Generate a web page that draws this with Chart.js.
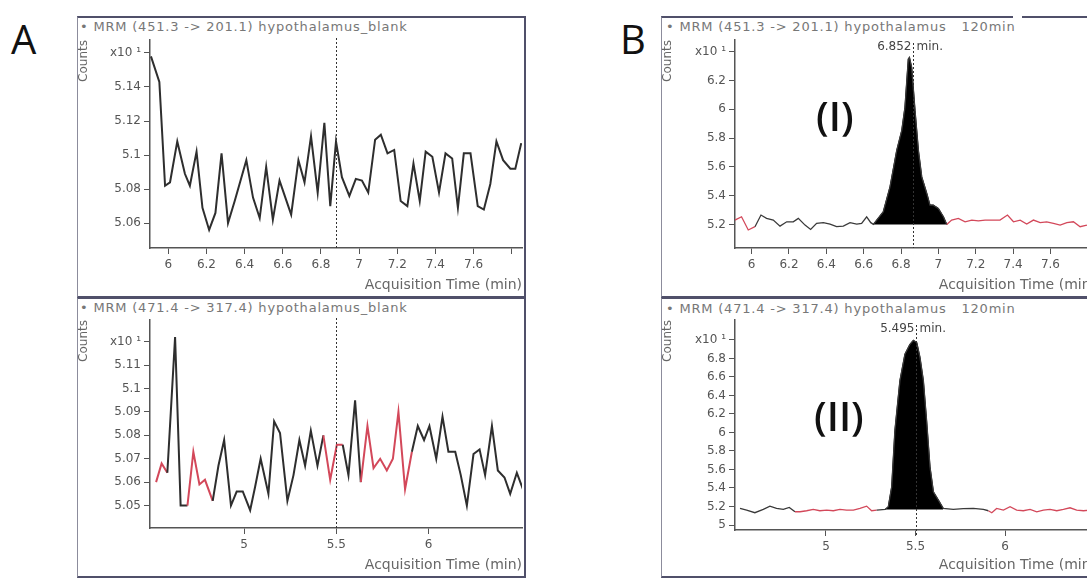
<!DOCTYPE html>
<html>
<head>
<meta charset="utf-8">
<script src="https://cdn.jsdelivr.net/npm/chart.js@4.4.0/dist/chart.umd.min.js"></script>
<style>
html, body { margin:0; padding:0; background:#fff; width:1087px; height:578px; overflow:hidden; position:relative; }
.box { position:absolute; box-sizing:border-box; border:2px solid #50506a; border-left:1px solid #8c8c9c; }
.hdr { position:absolute; font-family:"DejaVu Sans", sans-serif; font-size:13px; line-height:14px; color:#777; letter-spacing:0.8px; white-space:nowrap; }
.big { position:absolute; font-family:"Open Sans", sans-serif; color:#111; line-height:1; }
canvas { position:absolute; }
</style>
</head>
<body>

<div class="big" style="left:11px;top:19px;font-size:40px;font-weight:500;">A</div>
<div class="big" style="left:620px;top:19px;font-size:40px;font-weight:500;">B</div>

<div class="box" style="left:77px;top:16px;width:449px;height:282px;"></div>
<div class="box" style="left:77px;top:297px;width:449px;height:281px;"></div>
<div class="box" style="left:661px;top:16px;width:500px;height:282px;"></div>
<div class="box" style="left:661px;top:297px;width:500px;height:281px;"></div>
<div style="position:absolute;left:1013px;top:14px;width:9px;height:6px;background:#fff;"></div>

<div class="hdr" style="left:80px;top:20px;">&bull; MRM (451.3 -&gt; 201.1) hypothalamus_blank</div>
<div class="hdr" style="left:80px;top:301px;">&bull; MRM (471.4 -&gt; 317.4) hypothalamus_blank</div>
<div class="hdr" style="left:666px;top:20px;">&bull; MRM (451.3 -&gt; 201.1) hypothalamus&nbsp;&nbsp;&nbsp;120min</div>
<div class="hdr" style="left:666px;top:302px;">&bull; MRM (471.4 -&gt; 317.4) hypothalamus&nbsp;&nbsp;&nbsp;120min</div>

<canvas id="aTop" width="446" height="277" style="left:78px;top:19px;"></canvas>
<canvas id="aBot" width="446" height="277" style="left:78px;top:299px;"></canvas>
<canvas id="bTop" width="436" height="277" style="left:662px;top:19px;"></canvas>
<canvas id="bBot" width="436" height="277" style="left:662px;top:299px;"></canvas>

<div class="big" style="left:816px;top:96px;font-size:40px;font-weight:600;">(I)</div>
<div class="big" style="left:814px;top:396px;font-size:40px;font-weight:600;">(II)</div>

<script>
// A: MRM 451.3 -> 201.1, blank
const aTopTime = [5.909,5.953,5.983,6.009,6.047,6.087,6.113,6.148,6.179,6.214,6.247,6.279,6.313,6.348,6.409,6.444,6.479,6.513,6.548,6.583,6.644,6.682,6.714,6.748,6.783,6.818,6.849,6.879,6.910,6.949,6.983,7.015,7.048,7.084,7.114,7.149,7.184,7.218,7.253,7.285,7.318,7.349,7.384,7.419,7.453,7.488,7.518,7.549,7.584,7.622,7.654,7.688,7.720,7.755,7.793,7.819,7.850];
const aTopCounts = [5.158,5.143,5.082,5.084,5.108,5.089,5.082,5.102,5.069,5.056,5.066,5.101,5.060,5.073,5.097,5.075,5.063,5.093,5.062,5.085,5.065,5.097,5.084,5.111,5.078,5.119,5.070,5.108,5.087,5.076,5.086,5.085,5.078,5.109,5.112,5.101,5.103,5.073,5.070,5.095,5.073,5.102,5.099,5.078,5.101,5.098,5.069,5.101,5.101,5.070,5.068,5.083,5.108,5.097,5.092,5.092,5.107];
const aTopXTicks = [6,6.2,6.4,6.6,6.8,7,7.2,7.4,7.6,7.8];
const aTopXLabels = ['6','6.2','6.4','6.6','6.8','7','7.2','7.4','7.6',''];
const aTopYTicks = [5.06,5.08,5.1,5.12,5.14,5.16];
const aTopYLabels = ['5.06','5.08','5.1','5.12','5.14','x10 \u00b9'];

// A: MRM 471.4 -> 317.4, blank
const aBotTime = [4.523,4.553,4.584,4.626,4.656,4.693,4.725,4.758,4.788,4.830,4.861,4.892,4.929,4.960,4.993,5.033,5.060,5.090,5.132,5.163,5.195,5.235,5.268,5.300,5.331,5.362,5.398,5.430,5.467,5.503,5.535,5.566,5.602,5.633,5.669,5.702,5.738,5.774,5.807,5.837,5.873,5.910,5.942,5.976,6.005,6.042,6.076,6.108,6.145,6.175,6.208,6.244,6.277,6.307,6.344,6.376,6.412,6.443,6.479,6.512];
const aBotCounts = [5.060,5.068,5.064,5.122,5.050,5.050,5.073,5.059,5.061,5.052,5.067,5.078,5.050,5.056,5.056,5.048,5.058,5.070,5.055,5.086,5.081,5.052,5.063,5.078,5.067,5.082,5.067,5.080,5.061,5.076,5.076,5.063,5.095,5.060,5.084,5.066,5.070,5.065,5.070,5.090,5.057,5.073,5.084,5.078,5.084,5.070,5.088,5.073,5.073,5.063,5.050,5.072,5.074,5.063,5.084,5.065,5.062,5.055,5.064,5.057];
const aBotXTicks = [5,5.5,6];
const aBotXLabels = ['5','5.5','6'];
const aBotYTicks = [5.05,5.06,5.07,5.08,5.09,5.1,5.11,5.12];
const aBotYLabels = ['5.05','5.06','5.07','5.08','5.09','5.1','5.11','x10 \u00b9'];

// B: MRM 451.3 -> 201.1, 120 min
const bTopTime = [5.911,5.946,5.982,6.018,6.050,6.080,6.116,6.152,6.188,6.223,6.250,6.286,6.316,6.348,6.384,6.420,6.455,6.491,6.527,6.563,6.589,6.616,6.638,6.652,
  6.705,6.741,6.777,6.804,6.821,6.839,6.845,6.857,6.875,6.893,6.911,6.938,6.955,6.973,7.000,7.027,
  7.045,7.071,7.107,7.143,7.179,7.214,7.250,7.286,7.330,7.370,7.402,7.438,7.473,7.509,7.545,7.580,7.616,7.652,7.688,7.723,7.759,7.795,7.830];
const bTopCounts = [5.230,5.253,5.161,5.184,5.265,5.242,5.230,5.188,5.218,5.218,5.242,5.195,5.165,5.207,5.212,5.202,5.184,5.188,5.212,5.202,5.207,5.253,5.212,5.200,
  5.288,5.461,5.714,5.853,6.014,6.349,6.360,6.291,5.991,5.714,5.530,5.415,5.334,5.334,5.311,5.253,
  5.200,5.230,5.242,5.218,5.230,5.225,5.230,5.230,5.230,5.265,5.218,5.230,5.202,5.230,5.212,5.218,5.207,5.195,5.212,5.218,5.184,5.195,5.207];
const bTopXTicks = [6,6.2,6.4,6.6,6.8,7,7.2,7.4,7.6,7.8];
const bTopXLabels = ['6','6.2','6.4','6.6','6.8','7','7.2','7.4','7.6',''];
const bTopYTicks = [5.2,5.4,5.6,5.8,6,6.2,6.4];
const bTopYLabels = ['5.2','5.4','5.6','5.8','6','6.2','x10 \u00b9'];

// B: MRM 471.4 -> 317.4, 120 min
const bBotTime = [4.520,4.557,4.603,4.650,4.687,4.724,4.762,4.795,4.827,4.855,4.892,4.929,4.966,5.004,5.041,5.078,5.115,5.153,5.190,5.227,5.255,5.283,5.330,
  5.348,5.367,5.385,5.413,5.441,5.469,5.488,5.507,5.525,5.544,5.562,5.581,5.600,5.628,
  5.655,5.711,5.767,5.823,5.879,5.907,5.926,5.953,5.991,6.028,6.065,6.102,6.140,6.177,6.214,6.251,6.289,6.326,6.363,6.400,6.438,6.475,6.512];
const bBotCounts = [5.179,5.161,5.133,5.168,5.204,5.179,5.168,5.190,5.143,5.143,5.154,5.168,5.154,5.161,5.154,5.168,5.161,5.161,5.179,5.204,5.154,5.161,5.168,
  5.197,5.412,6.022,6.559,6.846,6.953,6.996,6.971,6.810,6.559,6.129,5.627,5.358,5.269,
  5.179,5.168,5.176,5.179,5.168,5.154,5.133,5.179,5.161,5.197,5.161,5.154,5.168,5.143,5.161,5.168,5.154,5.168,5.186,5.161,5.154,5.161,5.168];
const bBotXTicks = [5,5.5,6];
const bBotXLabels = ['5','5.5','6'];
const bBotYTicks = [5,5.2,5.4,5.6,5.8,6,6.2,6.4,6.6,6.8,7];
const bBotYLabels = ['5','5.2','5.4','5.6','5.8','6','6.2','6.4','6.6','6.8','x10 \u00b9'];

const GRAY = '#555';
const RED = '#d3485a';
const FONT = '"DejaVu Sans", sans-serif';

// dotted retention-time line with optional "x.xxx min." label
const markerPlugin = {
  id: 'marker',
  afterDatasetsDraw(chart, args, opts) {
    if (opts.at == null) return;
    const ctx = chart.ctx, a = chart.chartArea;
    const x = Math.round(chart.scales.x.getPixelForValue(opts.at)) + 0.5;
    ctx.save();
    ctx.strokeStyle = '#333';
    ctx.lineWidth = 1;
    ctx.setLineDash([2, 2]);
    ctx.beginPath();
    ctx.moveTo(x, a.top + opts.from);
    ctx.lineTo(x, a.bottom + opts.below);
    ctx.stroke();
    if (opts.label) {
      ctx.font = '12px ' + FONT;
      ctx.fillStyle = '#444';
      ctx.textBaseline = 'middle';
      ctx.textAlign = 'right';
      ctx.fillText(opts.label, x - 2, a.top + opts.labelY);
      ctx.textAlign = 'left';
      ctx.fillText('min.', x + 3, a.top + opts.labelY);
    }
    ctx.restore();
  }
};

function panel(id, o) {
  const pts = o.time.map((t, i) => ({x: t, y: o.counts[i]}));
  const isRed = (a, b) => (o.red || []).some(s => a >= s[0] - 1e-9 && b <= s[1] + 1e-9);
  const datasets = [{
    data: pts,
    borderColor: o.color,
    borderWidth: o.width,
    pointRadius: 0,
    tension: 0,
    fill: false,
    segment: { borderColor: c => isRed(c.p0.parsed.x, c.p1.parsed.x) ? RED : o.color }
  }];
  if (o.peak) {
    datasets.push({
      data: pts.filter(p => p.x >= o.peak[0] - 1e-9 && p.x <= o.peak[1] + 1e-9),
      borderColor: '#000', borderWidth: 1, backgroundColor: '#000',
      pointRadius: 0, tension: 0, fill: {value: o.base}
    });
  }
  new Chart(document.getElementById(id), {
    type: 'line',
    data: {datasets: datasets},
    options: {
      responsive: false,
      animation: false,
      events: [],
      layout: {padding: {top: 21, right: 2, left: 0, bottom: 0}},
      plugins: {legend: {display: false}, tooltip: {enabled: false}, marker: o.marker},
      scales: {
        x: {
          type: 'linear', min: o.xMin, max: o.xMax,
          afterBuildTicks: s => { s.ticks = o.xTicks.map(v => ({value: v})); },
          afterFit: s => { s.height = o.xH; },
          ticks: {autoSkip: false, maxRotation: 0, padding: 4, color: GRAY, font: {family: FONT, size: 12},
                  callback: (v, i) => o.xLabels[i]},
          grid: {drawOnChartArea: false, tickLength: 6, color: GRAY},
          border: {color: GRAY, width: 1.5},
          title: {display: true, text: 'Acquisition Time (min)', align: 'end', color: '#666',
                  font: {family: FONT, size: 14}, padding: {top: 0, bottom: 2}}
        },
        y: {
          type: 'linear', min: o.yMin, max: o.yMax,
          afterBuildTicks: s => { s.ticks = o.yTicks.map(v => ({value: v})); },
          afterFit: s => { s.width = o.yW; },
          ticks: {autoSkip: false, padding: 3, color: GRAY, font: {family: FONT, size: 12},
                  callback: (v, i) => o.yLabels[i]},
          grid: {drawOnChartArea: false, tickLength: 6, color: GRAY},
          border: {color: GRAY, width: 1.5},
          title: {display: true, text: 'Counts', align: 'end', color: '#666',
                  font: {family: FONT, size: 12, lineHeight: 1}, padding: 0}
        }
      }
    },
    plugins: [markerPlugin]
  });
}

panel('aTop', {
  time: aTopTime, counts: aTopCounts, color: '#2e2e2e', width: 2,
  xMin: 5.904, xMax: 7.854, yMin: 5.0454, yMax: 5.1676,
  xTicks: aTopXTicks, xLabels: aTopXLabels, yTicks: aTopYTicks, yLabels: aTopYLabels,
  xH: 48, yW: 72,
  marker: {at: 6.88, from: -2, below: 0}
});

panel('aBot', {
  time: aBotTime, counts: aBotCounts, color: '#2e2e2e', width: 2,
  red: [[4.52, 4.59], [4.69, 4.84], [5.43, 5.54], [5.63, 5.92]],
  xMin: 4.49, xMax: 6.507, yMin: 5.0404, yMax: 5.1293,
  xTicks: aBotXTicks, xLabels: aBotXLabels, yTicks: aBotYTicks, yLabels: aBotYLabels,
  xH: 48, yW: 72,
  marker: {at: 5.5, from: -2, below: 0}
});

panel('bTop', {
  time: bTopTime, counts: bTopCounts, color: '#3a3a3a', width: 1.3,
  red: [[5.9, 6.02], [7.04, 8]], peak: [6.652, 7.045], base: 5.2,
  xMin: 5.911, xMax: 7.844, yMin: 5.036, yMax: 6.481,
  xTicks: bTopXTicks, xLabels: bTopXLabels, yTicks: bTopYTicks, yLabels: bTopYLabels,
  xH: 48, yW: 73,
  marker: {at: 6.866, from: 3, below: 0, label: '6.852', labelY: 7}
});

panel('bBot', {
  time: bBotTime, counts: bBotCounts, color: '#3a3a3a', width: 1.3,
  red: [[4.82, 5.29], [5.9, 7]], peak: [5.33, 5.655], base: 5.168,
  xMin: 4.492, xMax: 6.508, yMin: 4.946, yMax: 7.215,
  xTicks: bBotXTicks, xLabels: bBotXLabels, yTicks: bBotYTicks, yLabels: bBotYLabels,
  xH: 46, yW: 73,
  marker: {at: 5.5, from: 5, below: 7, label: '5.495', labelY: 9}
});
</script>
</body>
</html>
